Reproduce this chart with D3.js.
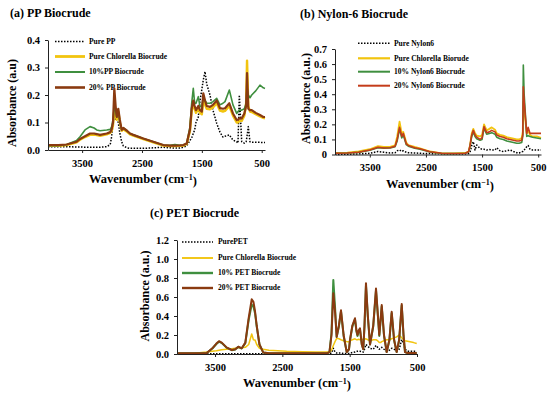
<!DOCTYPE html>
<html>
<head>
<meta charset="utf-8">
<script src="https://cdn.jsdelivr.net/npm/d3@7"></script>
<style>
body { margin: 0; background: #fff; }
svg text { font-family: "Liberation Serif", "Times New Roman", serif; font-weight: bold; fill: #000; }
</style>
</head>
<body>
<script>
/* ------------------------------------------------------------
   Data
------------------------------------------------------------ */
var xTicks = [3500, 2500, 1500, 500];

// (a) PP biocrude
var waveA = [4070, 3900, 3758, 3591, 3535, 3452, 3368, 3300, 3256, 3201, 3089, 3030, 3006, 2984, 2962, 2940, 2922, 2896, 2870, 2839, 2812, 2750, 2700, 2645, 2478, 2311, 2144, 2032, 1950, 1865, 1810, 1753, 1698, 1670, 1643, 1620, 1598, 1559, 1531, 1500, 1476, 1447, 1419, 1364, 1314, 1252, 1197, 1147, 1113, 1041, 980, 918, 896, 874, 834, 790, 760, 745, 724, 696, 667, 600, 529, 473, 445];
var ppPure = [0.012, 0.012, 0.012, 0.011, 0.011, 0.01, 0.01, 0.01, 0.01, 0.01, 0.012, 0.02, 0.05, 0.1, 0.127, 0.11, 0.12, 0.1, 0.06, 0.03, 0.015, 0.008, 0.006, 0.006, 0.006, 0.008, 0.01, 0.008, 0.007, 0.007, 0.01, 0.015, 0.035, 0.044, 0.06, 0.073, 0.1, 0.12, 0.18, 0.22, 0.255, 0.285, 0.24, 0.2, 0.145, 0.097, 0.065, 0.047, 0.05, 0.055, 0.036, 0.03, 0.025, 0.2, 0.03, 0.025, 0.03, 0.05, 0.085, 0.03, 0.028, 0.028, 0.028, 0.027, 0.027];
var ppChlorella = [0.015, 0.015, 0.018, 0.028, 0.037, 0.047, 0.055, 0.056, 0.054, 0.052, 0.057, 0.062, 0.07, 0.09, 0.15, 0.13, 0.11, 0.14, 0.1, 0.07, 0.075, 0.066, 0.057, 0.052, 0.04, 0.028, 0.016, 0.014, 0.014, 0.015, 0.016, 0.022, 0.07, 0.14, 0.17, 0.15, 0.135, 0.15, 0.135, 0.13, 0.18, 0.165, 0.15, 0.148, 0.155, 0.17, 0.143, 0.14, 0.142, 0.16, 0.125, 0.1, 0.1, 0.105, 0.106, 0.125, 0.17, 0.325, 0.16, 0.14, 0.138, 0.13, 0.122, 0.117, 0.115];
var pp10 = [0.016, 0.016, 0.02, 0.035, 0.048, 0.073, 0.085, 0.08, 0.073, 0.07, 0.073, 0.075, 0.085, 0.11, 0.16, 0.14, 0.12, 0.14, 0.1, 0.075, 0.08, 0.07, 0.06, 0.055, 0.042, 0.03, 0.018, 0.017, 0.02, 0.017, 0.018, 0.024, 0.085, 0.17, 0.224, 0.17, 0.17, 0.194, 0.157, 0.16, 0.194, 0.18, 0.17, 0.17, 0.176, 0.188, 0.164, 0.17, 0.176, 0.218, 0.164, 0.133, 0.14, 0.145, 0.145, 0.15, 0.17, 0.23, 0.2, 0.19, 0.2, 0.215, 0.236, 0.226, 0.224];
var pp20 = [0.018, 0.018, 0.02, 0.03, 0.04, 0.05, 0.06, 0.06, 0.058, 0.055, 0.06, 0.065, 0.075, 0.1, 0.224, 0.16, 0.12, 0.15, 0.11, 0.073, 0.08, 0.07, 0.06, 0.055, 0.042, 0.03, 0.018, 0.016, 0.016, 0.017, 0.018, 0.024, 0.075, 0.15, 0.18, 0.16, 0.145, 0.16, 0.145, 0.14, 0.206, 0.18, 0.16, 0.157, 0.164, 0.18, 0.152, 0.15, 0.152, 0.17, 0.133, 0.109, 0.11, 0.115, 0.115, 0.133, 0.16, 0.28, 0.15, 0.145, 0.145, 0.135, 0.127, 0.12, 0.12];
var labelsA = ["Pure PP", "Pure Chlorella Biocrude", "10%PP Biocrude", "20% PP Biocrude"];

// (b) Nylon-6 biocrude
var waveB = [4120, 3900, 3700, 3500, 3354, 3250, 3140, 3050, 3012, 2970, 2931, 2903, 2850, 2814, 2700, 2605, 2427, 2219, 2000, 1800, 1740, 1714, 1684, 1656, 1625, 1595, 1536, 1500, 1465, 1418, 1370, 1328, 1269, 1239, 1180, 1121, 1060, 1001, 940, 882, 840, 793, 775, 765, 750, 704, 680, 645, 600, 526, 450];
var nyPure = [0.0, 0.002, 0.004, 0.008, 0.02, 0.015, 0.01, 0.012, 0.025, 0.03, 0.02, 0.025, 0.015, 0.012, 0.01, 0.008, 0.006, 0.004, 0.004, 0.004, 0.006, 0.015, 0.06, 0.085, 0.03, 0.063, 0.04, 0.035, 0.035, 0.03, 0.033, 0.03, 0.03, 0.045, 0.025, 0.019, 0.025, 0.03, 0.02, 0.012, 0.01, 0.019, 0.02, 0.025, 0.03, 0.052, 0.06, 0.035, 0.03, 0.03, 0.03];
var nyChlorella = [0.01, 0.012, 0.02, 0.035, 0.055, 0.05, 0.05, 0.06, 0.12, 0.218, 0.14, 0.15, 0.08, 0.063, 0.05, 0.041, 0.02, 0.008, 0.008, 0.01, 0.02, 0.06, 0.14, 0.17, 0.14, 0.125, 0.12, 0.13, 0.2, 0.16, 0.17, 0.18, 0.165, 0.14, 0.13, 0.125, 0.115, 0.11, 0.105, 0.1, 0.1, 0.11, 0.15, 0.35, 0.3, 0.14, 0.16, 0.13, 0.12, 0.12, 0.11];
var ny10 = [0.008, 0.01, 0.014, 0.028, 0.045, 0.042, 0.043, 0.052, 0.09, 0.17, 0.11, 0.13, 0.065, 0.055, 0.042, 0.035, 0.017, 0.007, 0.007, 0.008, 0.017, 0.055, 0.12, 0.15, 0.12, 0.105, 0.095, 0.1, 0.175, 0.135, 0.14, 0.145, 0.135, 0.115, 0.105, 0.1, 0.09, 0.085, 0.08, 0.075, 0.075, 0.08, 0.12, 0.594, 0.4, 0.12, 0.125, 0.12, 0.115, 0.11, 0.105];
var ny20 = [0.008, 0.01, 0.015, 0.03, 0.048, 0.043, 0.045, 0.055, 0.1, 0.18, 0.12, 0.14, 0.07, 0.06, 0.045, 0.038, 0.018, 0.008, 0.007, 0.008, 0.018, 0.06, 0.13, 0.16, 0.13, 0.115, 0.1, 0.11, 0.185, 0.145, 0.15, 0.16, 0.15, 0.13, 0.12, 0.115, 0.105, 0.1, 0.095, 0.09, 0.09, 0.095, 0.13, 0.45, 0.35, 0.14, 0.18, 0.14, 0.14, 0.14, 0.14];
var labelsB = ["Pure Nylon6", "Pure Chlorella Biorude", "10% Nylon6 Biocrude", "20% Nylon6 Biocrude"];

// (c) PET biocrude
var waveC = [4065, 3800, 3624, 3540, 3480, 3441, 3400, 3330, 3252, 3200, 3154, 3104, 3050, 3000, 2955, 2930, 2906, 2881, 2840, 2783, 2700, 2436, 2200, 2000, 1841, 1800, 1770, 1743, 1718, 1693, 1660, 1629, 1590, 1544, 1510, 1495, 1460, 1421, 1400, 1384, 1365, 1347, 1320, 1298, 1280, 1258, 1230, 1198, 1150, 1109, 1085, 1060, 1042, 1024, 990, 950, 910, 876, 840, 802, 765, 727, 700, 678, 640, 604, 550, 504];
var petPure = [0.003, 0.003, 0.003, 0.003, 0.003, 0.003, 0.003, 0.003, 0.003, 0.003, 0.003, 0.003, 0.003, 0.003, 0.003, 0.003, 0.003, 0.003, 0.003, 0.003, 0.003, 0.003, 0.003, 0.003, 0.003, 0.003, 0.01, 0.06, 0.02, 0.01, 0.01, 0.01, 0.005, 0.005, 0.008, 0.01, 0.015, 0.02, 0.025, 0.03, 0.03, 0.03, 0.025, 0.02, 0.05, 0.1, 0.08, 0.06, 0.05, 0.09, 0.07, 0.05, 0.06, 0.07, 0.05, 0.03, 0.04, 0.06, 0.05, 0.03, 0.05, 0.15, 0.12, 0.05, 0.03, 0.03, 0.03, 0.03];
var petChlorella = [0.005, 0.008, 0.02, 0.03, 0.035, 0.04, 0.045, 0.05, 0.055, 0.06, 0.065, 0.065, 0.07, 0.1, 0.21, 0.15, 0.147, 0.1, 0.06, 0.05, 0.04, 0.03, 0.025, 0.02, 0.02, 0.02, 0.04, 0.09, 0.13, 0.165, 0.16, 0.15, 0.14, 0.13, 0.13, 0.14, 0.15, 0.16, 0.15, 0.15, 0.155, 0.15, 0.15, 0.155, 0.155, 0.16, 0.15, 0.14, 0.15, 0.15, 0.14, 0.12, 0.12, 0.13, 0.14, 0.15, 0.15, 0.16, 0.17, 0.18, 0.2, 0.17, 0.15, 0.14, 0.135, 0.13, 0.12, 0.11];
var pet10 = [0.007, 0.007, 0.01, 0.058, 0.105, 0.13, 0.115, 0.068, 0.04, 0.048, 0.075, 0.058, 0.115, 0.36, 0.52, 0.5, 0.43, 0.29, 0.1, 0.015, 0.008, 0.007, 0.007, 0.007, 0.007, 0.02, 0.22, 0.78, 0.5, 0.18, 0.29, 0.45, 0.19, 0.02, 0.05, 0.145, 0.29, 0.365, 0.24, 0.19, 0.24, 0.26, 0.1, 0.05, 0.29, 0.72, 0.39, 0.1, 0.29, 0.67, 0.44, 0.19, 0.34, 0.5, 0.19, 0.02, 0.145, 0.43, 0.145, 0.02, 0.145, 0.51, 0.19, 0.02, 0.01, 0.01, 0.01, 0.01];
var pet20 = [0.007, 0.007, 0.01, 0.06, 0.11, 0.135, 0.12, 0.07, 0.042, 0.05, 0.077, 0.06, 0.12, 0.38, 0.576, 0.55, 0.45, 0.3, 0.1, 0.015, 0.008, 0.007, 0.007, 0.007, 0.007, 0.02, 0.2, 0.64, 0.45, 0.18, 0.3, 0.46, 0.2, 0.02, 0.05, 0.15, 0.3, 0.376, 0.25, 0.2, 0.25, 0.27, 0.1, 0.05, 0.3, 0.744, 0.4, 0.1, 0.3, 0.69, 0.45, 0.2, 0.35, 0.516, 0.2, 0.02, 0.15, 0.445, 0.15, 0.02, 0.15, 0.526, 0.2, 0.02, 0.01, 0.01, 0.01, 0.01];
var labelsC = ["PurePET", "Pure Chlorella Biocrude", "10% PET Biocrude", "20% PET Biocrude"];

/* ------------------------------------------------------------
   Panel layout (pixel positions)
------------------------------------------------------------ */
var panels = [
    {
        title: "(a) PP Biocrude", titleX: 10, titleY: 16.5,
        left: 48, right: 265, top: 40, bottom: 150,
        xDomain: [4070, 445], yDomain: [0, 0.4], yTicks: [0, 0.1, 0.2, 0.3, 0.4],
        yFormat: d3.format(".1f"), yTitle: "Absorbance (a.u)", yTitleX: 16, yTitleY: 103,
        xTitleX: 143, xTitleY: 183,
        wave: waveA, series: [ppPure, ppChlorella, pp10, pp20], labels: labelsA,
        colors: ["#000", "#F2C40F", "#3F8F3F", "#8A3A10"], widths: [1.5, 2.4, 1.6, 2.2],
        legend: {x1: 55, x2: 85, tx: 89, ys: [41.5, 56.5, 72, 87.5]}
    },
    {
        title: "(b) Nylon-6 Biocrude", titleX: 300, titleY: 17.5,
        left: 335, right: 541, top: 49, bottom: 154.5,
        xDomain: [4120, 450], yDomain: [0, 0.7], yTicks: [0, 0.1, 0.2, 0.3, 0.4, 0.5, 0.6, 0.7],
        yFormat: function(d) { return d === 0 ? "0" : d.toFixed(1); },
        yTitle: "Absorbance (a.u.)", yTitleX: 310, yTitleY: 98.5,
        xTitleX: 440, xTitleY: 188,
        wave: waveB, series: [nyPure, nyChlorella, ny10, ny20], labels: labelsB,
        colors: ["#000", "#F2C40F", "#3F8F3F", "#C43C1A"], widths: [1.5, 1.8, 1.6, 1.6],
        legend: {x1: 358, x2: 390, tx: 394, ys: [43.3, 58.3, 71.7, 85.7]}
    },
    {
        title: "(c) PET Biocrude", titleX: 150, titleY: 217,
        left: 177, right: 417, top: 240, bottom: 354,
        xDomain: [4065, 500], yDomain: [0, 1.2], yTicks: [0, 0.2, 0.4, 0.6, 0.8, 1.0, 1.2],
        yFormat: d3.format(".1f"), yTitle: "Absorbance (a.u.)", yTitleX: 149, yTitleY: 296,
        xTitleX: 297, xTitleY: 387,
        wave: waveC, series: [petPure, petChlorella, pet10, pet20], labels: labelsC,
        colors: ["#000", "#F2C40F", "#3F8F3F", "#8A3A10"], widths: [1.5, 1.5, 2, 2],
        legend: {x1: 182, x2: 213, tx: 218, ys: [242, 258, 273, 288]}
    }
];

var svg = d3.select("body")
    .append("svg")
    .attr("width", 550)
    .attr("height", 394);

function drawPanel(p) {
    var x = d3.scaleLinear().domain(p.xDomain).range([p.left, p.right]);
    var y = d3.scaleLinear().domain(p.yDomain).range([p.bottom, p.top]);
    var g = svg.append("g");

    // spectra, in legend order (dotted pure polymer at the back)
    p.series.forEach(function(vals, k) {
        var line = d3.line()
            .x(function(d, i) { return x(p.wave[i]); })
            .y(function(d) { return y(d); });
        g.append("path")
            .datum(vals)
            .attr("d", line)
            .attr("fill", "none")
            .attr("stroke", p.colors[k])
            .attr("stroke-width", p.widths[k])
            .attr("stroke-linejoin", "round")
            .attr("stroke-dasharray", k === 0 ? "1.5,1.5" : null);
    });

    // axes
    var xa = g.append("g")
        .attr("transform", "translate(0," + p.bottom + ")")
        .call(d3.axisBottom(x).tickValues(xTicks).tickSize(3).tickSizeOuter(0)
            .tickPadding(6.5).tickFormat(d3.format("d")));
    var ya = g.append("g")
        .attr("transform", "translate(" + p.left + ",0)")
        .call(d3.axisLeft(y).tickValues(p.yTicks).tickSize(3).tickSizeOuter(0)
            .tickPadding(5).tickFormat(p.yFormat));
    [xa, ya].forEach(function(a) {
        a.attr("font-family", null).attr("font-size", null);
        a.selectAll("text").style("font-size", "10.5px");
        a.selectAll("path, line").attr("stroke", "#222").attr("stroke-width", 1);
    });

    // titles
    g.append("text")
        .attr("x", p.titleX).attr("y", p.titleY)
        .style("font-size", "12px")
        .text(p.title);

    g.append("text")
        .attr("transform", "translate(" + p.yTitleX + "," + p.yTitleY + ") rotate(-90)")
        .attr("text-anchor", "middle")
        .style("font-size", "12px")
        .text(p.yTitle);

    var xt = g.append("text")
        .attr("x", p.xTitleX).attr("y", p.xTitleY)
        .attr("text-anchor", "middle")
        .style("font-size", "12.5px");
    xt.append("tspan").text("Wavenumber (cm");
    xt.append("tspan").attr("dy", "-0.4em").style("font-size", "8px").text("\u22121");
    xt.append("tspan").attr("dy", "0.4em").text(")");

    // legend
    p.labels.forEach(function(lab, k) {
        var ly = p.legend.ys[k];
        g.append("line")
            .attr("x1", p.legend.x1).attr("x2", p.legend.x2)
            .attr("y1", ly).attr("y2", ly)
            .attr("stroke", p.colors[k])
            .attr("stroke-width", k === 0 ? 1.5 : p.widths[k] + 0.4)
            .attr("stroke-dasharray", k === 0 ? "1.5,1.5" : null);
        g.append("text")
            .attr("x", p.legend.tx).attr("y", ly)
            .attr("dy", "0.33em")
            .style("font-size", "7.5px")
            .text(lab);
    });
}

panels.forEach(drawPanel);
</script>
</body>
</html>
